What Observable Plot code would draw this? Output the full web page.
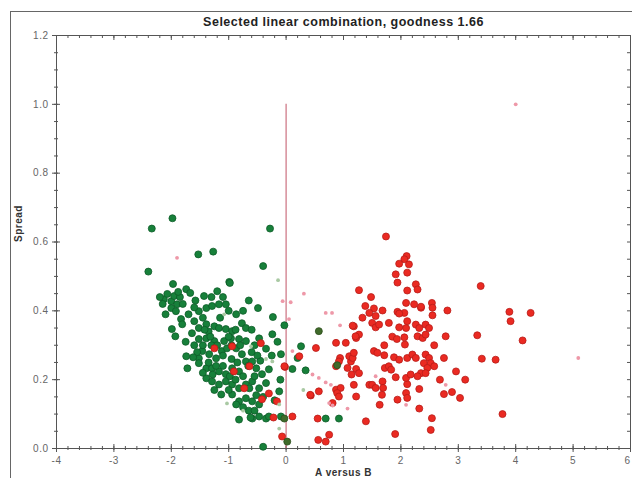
<!DOCTYPE html>
<html><head><meta charset="utf-8">
<script src="https://cdn.jsdelivr.net/npm/d3@7"></script>
<script src="https://cdn.jsdelivr.net/npm/@observablehq/plot@0.6"></script>
<style>
body{margin:0;background:#fff}
#wrap{position:relative;width:632px;height:478px;overflow:hidden;background:#fff}
#border{position:absolute;left:10px;top:11px;width:700px;height:700px;border:1px solid #666}
</style>
</head><body>
<div id="wrap"><div id="border"></div></div>
<script>
const title = "Selected linear combination, goodness 1.66";
const xLabel = "A versus B";
const yLabel = "Spread";
const xTicks = [-4,-3,-2,-1,0,1,2,3,4,5,6];
const yTicks = [0,0.2,0.4,0.6,0.8,1.0,1.2];
const xMinorStep = 0.2;
const yMinorStep = 0.05;
const splitLine = [{x:0, y1:0, y2:1.0}];

const greenPoints = [
[-1.98,0.669],[-2.34,0.639],[-0.28,0.639],[-1.53,0.564],[-1.27,0.572],[-2.40,0.514],[-0.40,0.530],[-0.99,0.484],
[-1.97,0.478],[-1.74,0.463],[-1.67,0.452],[-2.13,0.434],[-2.07,0.449],[-2.00,0.428],[-1.95,0.443],[-1.90,0.419],[-2.00,0.408],[-1.92,0.399],
[-1.43,0.443],[-1.20,0.457],[-0.98,0.481],[-1.52,0.399],[-1.39,0.408],[-1.29,0.414],[-1.17,0.419],[-1.05,0.419],[-0.87,0.390],[-0.49,0.408],[-0.23,0.382],[-0.03,0.358],
[-1.83,0.376],[-1.81,0.361],[-1.99,0.347],[-1.93,0.326],[-1.64,0.335],[-1.52,0.350],[-1.39,0.361],[-1.25,0.355],[-1.17,0.350],[-1.05,0.347],[-0.94,0.341],[-0.77,0.364],[-0.70,0.350],
[-1.52,0.318],[-1.39,0.320],[-1.25,0.312],[-1.08,0.312],[-0.96,0.320],[-0.82,0.318],[-0.70,0.312],[-0.47,0.320],[-0.24,0.332],
[-1.46,0.283],[-1.34,0.274],[-1.52,0.262],[-1.22,0.262],[-1.12,0.283],[-1.03,0.291],[-0.87,0.291],[-0.77,0.274],[-0.70,0.253],
[-1.74,0.268],[-1.72,0.233],[-1.52,0.248],[-1.39,0.233],[-1.29,0.233],[-1.17,0.224],[-1.05,0.216],[-0.94,0.233],[-0.82,0.224],[-0.66,0.240],[-0.59,0.253],[-0.52,0.233],[-0.42,0.216],
[-1.39,0.204],[-1.29,0.195],[-1.17,0.186],[-1.05,0.195],[-0.94,0.186],[-0.82,0.175],[-0.70,0.186],[-0.59,0.195],[-0.47,0.175],
[-1.25,0.170],[-1.13,0.157],[-0.94,0.157],[-0.82,0.137],[-0.70,0.146],[-0.59,0.137],[-0.47,0.128],[-0.87,0.128],
[-0.82,0.084],[-0.59,0.087],[-0.47,0.093],[-0.35,0.087],[-0.30,0.093],[-0.12,0.166],[-0.09,0.274],[-0.40,0.005],[-0.09,0.093],
[-2.15,0.420],[-2.20,0.440],[-2.10,0.390],[-1.85,0.440],[-1.80,0.420],[-1.60,0.410],[-1.70,0.390],[-1.75,0.310],[-1.60,0.300],[-1.55,0.280],
[-1.45,0.300],[-1.30,0.300],[-1.10,0.270],[-0.95,0.260],[-0.85,0.250],[-0.60,0.280],[-0.55,0.210],[-0.35,0.190],[-0.30,0.230],[-0.45,0.255],
[-0.65,0.110],[-0.55,0.110],[-1.00,0.170],[-1.35,0.340],[-1.15,0.380],[-1.45,0.380],[-1.60,0.370],[-0.60,0.345],[-0.35,0.290],[-0.15,0.310],
[-0.10,0.200],[-0.20,0.140],[-0.25,0.270],[-1.00,0.400],[-0.75,0.400],[-0.65,0.430],[-1.30,0.440],[-1.10,0.440],
[-1.88,0.455],[-1.58,0.430],[-1.42,0.345],[-1.32,0.325],[-1.20,0.300],[-1.00,0.325],[-0.88,0.345],[-1.35,0.250],[-1.22,0.240],[-1.10,0.240],
[-0.98,0.210],[-0.88,0.200],[-0.75,0.210],[-0.64,0.175],[-0.52,0.155],[-0.40,0.150],[-0.75,0.120],[-0.62,0.090],[-0.95,0.300],[-1.62,0.265],
[-1.45,0.220],[-1.28,0.215],[-0.80,0.300],[-0.55,0.300],[-0.50,0.270],
[0.26,0.297],[0.20,0.263],[0.34,0.227],[0.11,0.231],[0.69,0.087],[0.92,0.087]
];
const olivePoints = [[0.57,0.341],[0.89,0.242],[0.02,0.020],[-0.03,0.087]];
const redPoints = [
[1.74,0.616],[2.10,0.559],[2.06,0.550],[2.14,0.535],[1.97,0.537],[2.11,0.511],[1.91,0.506],[1.94,0.482],
[1.27,0.460],[1.48,0.440],[2.11,0.459],[2.26,0.477],[2.29,0.462],[2.09,0.423],[2.23,0.419],[2.35,0.409],
[2.54,0.423],[2.55,0.409],[2.55,0.387],[2.81,0.401],
[3.39,0.472],[3.89,0.397],[3.91,0.370],[4.26,0.394],[3.33,0.329],[4.12,0.314],[3.41,0.261],[3.65,0.258],[3.77,0.100],
[1.38,0.414],[1.53,0.407],[1.45,0.394],[1.56,0.385],[1.68,0.401],[1.33,0.380],
[1.18,0.355],[1.27,0.331],[1.22,0.321],[1.50,0.365],[1.56,0.352],[1.62,0.360],[1.79,0.365],
[1.94,0.397],[2.06,0.394],[2.11,0.370],[1.97,0.352],[2.09,0.350],
[2.26,0.360],[2.32,0.350],[2.43,0.360],[2.49,0.350],[2.29,0.326],[2.38,0.321],[2.43,0.331],
[1.85,0.325],[1.93,0.318],[2.06,0.323],[2.07,0.302],[1.71,0.300],[2.78,0.326],[2.58,0.300],
[0.87,0.307],[1.04,0.307],[0.52,0.292],
[1.53,0.283],[1.59,0.278],[1.71,0.271],
[1.88,0.265],[1.97,0.258],[2.11,0.263],[2.20,0.273],[2.26,0.263],[2.43,0.273],[2.49,0.263],[2.40,0.248],[2.52,0.248],[2.58,0.239],[2.46,0.234],[2.35,0.219],[2.43,0.219],[2.29,0.210],
[2.75,0.263],[2.96,0.224],[3.12,0.200],[2.68,0.200],[2.75,0.158],[2.89,0.164],[3.03,0.147],
[2.32,0.173],[2.11,0.187],[2.09,0.161],[2.11,0.147],[1.91,0.207],[1.94,0.142],
[1.72,0.234],[1.68,0.195],[1.69,0.176],[1.67,0.156],[1.63,0.127],
[1.45,0.185],[1.50,0.185],[1.18,0.185],[1.14,0.215],[1.22,0.151],
[1.07,0.234],[1.13,0.253],[1.22,0.231],[1.10,0.268],[1.16,0.263],[1.18,0.278],
[0.94,0.263],[0.92,0.253],[0.87,0.171],[0.95,0.176],[0.89,0.161],[0.92,0.151],[0.81,0.132],
[0.57,0.166],[0.43,0.154],
[1.39,0.079],[1.90,0.042],[2.32,0.116],[2.54,0.088],[2.52,0.054],
[0.11,0.093],[0.55,0.087],[0.75,0.040],[0.69,0.020],[0.56,0.025],
[0.87,0.239],[1.27,0.219],[2.09,0.205],[2.17,0.215],[1.79,0.239],[1.83,0.229],[1.56,0.176],
[0.23,0.268],[-0.02,0.237],[1.16,0.357],[1.21,0.326],[2.35,0.412],[1.97,0.392],
[-1.25,0.291],[-0.94,0.297],[-0.91,0.224],[-0.64,0.239],[-0.73,0.175],[-0.44,0.306],[-0.30,0.160],[-0.42,0.143],[-0.16,0.137],[-0.22,0.090],[-0.07,0.035],[-0.03,0.239],[0.42,0.156]
];
const pinkPoints = [
[0.31,0.450],[0.08,0.425],[0.69,0.394],[0.80,0.394],[0.94,0.358],[0.11,0.283],[0.46,0.215],[0.57,0.205],[0.69,0.192],[0.78,0.185],
[0.75,0.132],[0.81,0.125],[1.07,0.116],[5.09,0.263],[2.78,0.185],[2.09,0.127],[1.56,0.210],[0.05,0.376],[4.0,1.0],[-1.90,0.554],[-0.06,0.428]
];
const paleGreenPoints = [
[-0.14,0.489],[-1.08,0.390],[-0.61,0.297],[-0.24,0.253],[-1.03,0.131],[-0.12,0.128],[-0.12,0.058],[0.30,0.170],[-0.35,0.260],[-0.75,0.110]
];

const W = 632, H = 478;
const mL = 56, mR = 2, mT = 35, mB = 30;
const pw = W - mL - mR, ph = H - mT - mB;
const xMinor = d3.range(xTicks[0], xTicks[xTicks.length-1] + 1e-9, xMinorStep);
const yMinor = d3.range(yTicks[0], yTicks[yTicks.length-1] + 1e-9, yMinorStep);
const xTicksInner = xTicks.slice(0, -1);
const xTickLast = xTicks.slice(-1);
const axisColor = "#555";

const chart = Plot.plot({
  width: W, height: H,
  marginLeft: mL, marginRight: mR, marginTop: mT, marginBottom: mB,
  x: {domain: [xTicks[0], xTicks[xTicks.length-1]]},
  y: {domain: [yTicks[0], yTicks[yTicks.length-1]]},
  style: {fontFamily: "'Liberation Sans', Arial, sans-serif", fontSize: "10px", color: "#555", background: "white", letterSpacing: "0.5px"},
  marks: [
    Plot.frame({stroke: axisColor}),
    Plot.ruleX(xMinor, {x: d => d, insetTop: ph - 2, insetBottom: -2, stroke: axisColor}),
    Plot.ruleX(xTicks, {x: d => d, insetTop: ph - 4, insetBottom: -4, stroke: axisColor}),
    Plot.ruleX(xMinor, {x: d => d, insetBottom: ph - 3, stroke: axisColor}),
    Plot.ruleX(xTicks, {x: d => d, insetBottom: ph - 5, stroke: axisColor}),
    Plot.ruleY(yMinor, {y: d => d, insetRight: pw - 2, insetLeft: -2, stroke: axisColor}),
    Plot.ruleY(yTicks, {y: d => d, insetRight: pw - 4, insetLeft: -4, stroke: axisColor}),
    Plot.ruleY(yMinor, {y: d => d, insetLeft: pw - 3, stroke: axisColor}),
    Plot.axisX({ticks: xTicksInner, tickSize: 0, tickPadding: 8, tickFormat: d => String(d), label: null, fill: "#666", fontSize: 10}),
    Plot.axisX({ticks: xTickLast, tickSize: 0, tickPadding: 8, tickFormat: d => String(d), label: null, fill: "#666", fontSize: 10, textAnchor: "end"}),
    Plot.axisY({ticks: yTicks, tickSize: 0, tickPadding: 8, tickFormat: d => d.toFixed(1), label: null, fill: "#666", fontSize: 10}),
    Plot.ruleX(splitLine, {x: "x", y1: "y1", y2: "y2", stroke: "#cc7080", strokeWidth: 1.2}),
    Plot.dot(greenPoints, {x: d => d[0], y: d => d[1], r: 3.5, fill: "#17803a", stroke: "#0e5c28", strokeWidth: 0.8}),
    Plot.dot(redPoints, {x: d => d[0], y: d => d[1], r: 3.5, fill: "#ea2a22", stroke: "#b81c18", strokeWidth: 0.8}),
    Plot.dot(olivePoints, {x: d => d[0], y: d => d[1], r: 3.5, fill: "#3f6a2a", stroke: "#2c4e1c", strokeWidth: 0.8}),
    Plot.dot(pinkPoints, {x: d => d[0], y: d => d[1], r: 1.9, fill: "#ee98a8", stroke: "none"}),
    Plot.dot(paleGreenPoints, {x: d => d[0], y: d => d[1], r: 1.9, fill: "#a9c9a3", stroke: "none"}),
    Plot.text([title], {frameAnchor: "top", dy: -18, text: d => d, fontWeight: "bold", fontSize: 12.5, fill: "#222"}),
    Plot.text([xLabel], {frameAnchor: "bottom", dy: 27, text: d => d, fontWeight: "bold", fontSize: 10, fill: "#333"}),
    Plot.text([yLabel], {frameAnchor: "left", dx: -38, rotate: -90, text: d => d, fontWeight: "bold", fontSize: 10, fill: "#333"})
  ]
});
const wrap = document.getElementById("wrap");
chart.style.position = "absolute";
chart.style.left = "0";
chart.style.top = "0";
wrap.insertBefore(chart, wrap.firstChild);
</script>
</body></html>
